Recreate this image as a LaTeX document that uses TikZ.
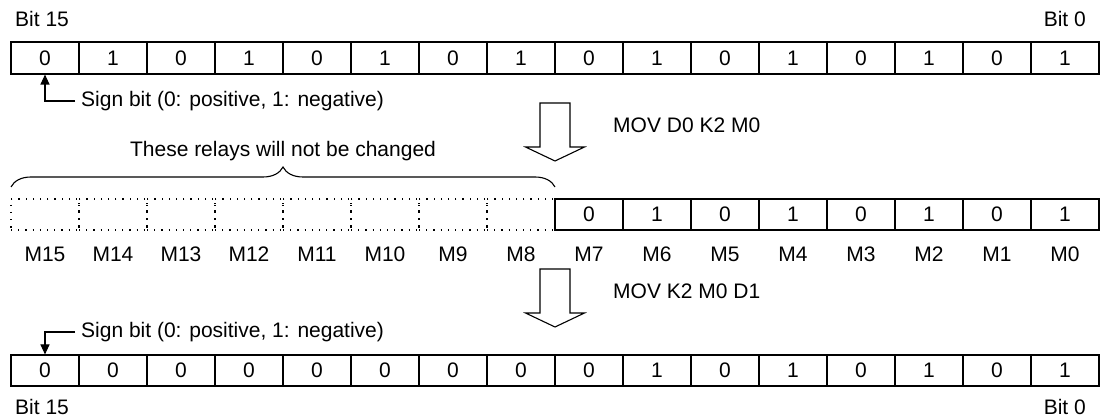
\documentclass[tikz,border=0pt]{standalone}
\usepackage{fontspec}
\setmainfont{Liberation Sans}
\usetikzlibrary{arrows.meta,decorations.pathreplacing}
\begin{document}
\begin{tikzpicture}[x=1pt,y=-1pt,
  every node/.style={font=\fontsize{21}{25}\selectfont, inner sep=0pt, text=black},
  cell/.style={draw, line width=1.1pt, minimum width=68pt, minimum height=32pt, inner sep=0pt},
  cellb/.style={cell, minimum height=31pt},
  dcell/.style={draw, line width=1.2pt, dash pattern=on 1.2pt off 6pt, minimum width=68pt, minimum height=31pt},
  signtext/.style={anchor=west, inner xsep=6pt},
  signarrow/.style={-{Triangle[length=10pt,width=9pt]}, line width=1.1pt},
  bigarrow/.style={draw, line width=1.1pt, fill=white, line join=miter},
  movtext/.style={anchor=west},
  mlabel/.style={},
  bracestyle/.style={decorate, decoration={brace, amplitude=20pt, aspect=0.5}, line width=1.1pt}]
\useasboundingbox (0,0) rectangle (1103,419);

% Top row
\foreach \d [count=\k from 0] in {0,1,0,1,0,1,0,1,0,1,0,1,0,1,0,1}
  \node[cell] (a\k) at ({45+68*\k},58) {\d};
\node[anchor=base west] (t15) at (15,27) {Bit 15};
\node[anchor=base east] (t0) at (1086,27) {Bit 0};

% Sign bit (top)
\node[signtext] (s1) at (75,101) {Sign bit (0: positive, 1: negative)};
\draw[signarrow] (s1.west) -| (a0.south);

% Big arrow 1
\draw[bigarrow] (540,103) -- (570,103) -- (570,147) -- (584.5,147) -- (555,161) -- (525.5,147) -- (540,147) -- cycle;
\node[movtext] (mov1) at (613,125) {MOV D0 K2 M0};

% Brace and text
\node (rel) at (283,151) {These relays will not be changed};
\coordinate (bl) at (11,187);
\coordinate (br) at (555,187);
\draw[bracestyle] (bl) -- (br);

% Middle row
\foreach \k in {0,...,7}
  \node[dcell] (b\k) at ({45+68*\k},214.5) {};
\foreach \d [count=\j from 8] in {0,1,0,1,0,1,0,1}
  \node[cellb] (b\j) at ({45+68*\j},214.5) {\d};
\foreach \k in {0,...,15} {
  \pgfmathtruncatemacro\n{15-\k}
  \node[mlabel] (m\k) at ({45+68*\k},254) {M\n};
}

% Big arrow 2
\draw[bigarrow] (540,269) -- (570,269) -- (570,313) -- (584.5,313) -- (555,327) -- (525.5,313) -- (540,313) -- cycle;
\node[movtext] (mov2) at (613,291) {MOV K2 M0 D1};

% Sign bit (bottom)
\node[signtext] (s2) at (75,332) {Sign bit (0: positive, 1: negative)};

% Bottom row
\foreach \d [count=\k from 0] in {0,0,0,0,0,0,0,0,0,1,0,1,0,1,0,1}
  \node[cellb] (c\k) at ({45+68*\k},370.5) {\d};
\draw[signarrow] (s2.west) -| (c0.north);
\node[anchor=base west] (bt15) at (15,414) {Bit 15};
\node[anchor=base east] (bt0) at (1086,414) {Bit 0};
\end{tikzpicture}
\end{document}
